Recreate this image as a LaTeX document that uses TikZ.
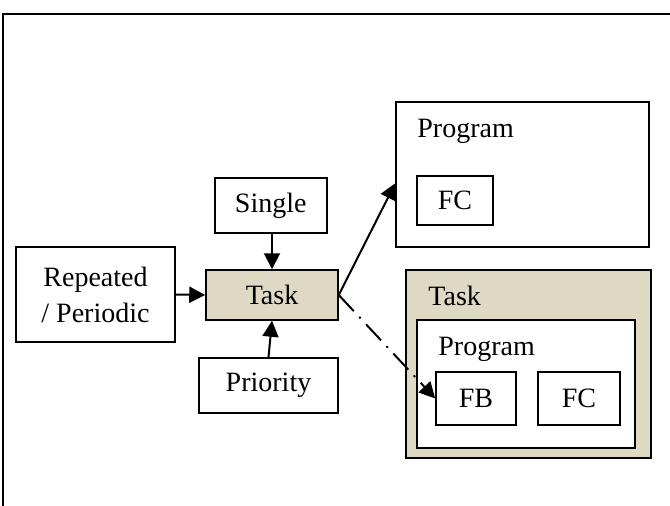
\documentclass[tikz,border=0pt]{standalone}
\usepackage{fontspec}
\setmainfont{Liberation Serif}
\usetikzlibrary{arrows.meta,calc}
\definecolor{taskfill}{RGB}{221,217,195}
\tikzset{
    box/.style={draw, line width=0.75pt, inner sep=0pt, font=\fontsize{14}{18}\selectfont},
    label/.style={anchor=base west, inner sep=0pt, font=\fontsize{14}{18}\selectfont},
    link/.style={line width=1pt, -{Triangle[length=8pt,width=8pt]}},
}
\begin{document}
\begin{tikzpicture}[x=0.5pt, y=-0.5pt]
        \useasboundingbox (0,0) rectangle (670,505);
        \draw[line width=1pt] (3,506) -- (3,14) -- (671,14);

        % sources of the task
        \node[box, minimum width=56pt, minimum height=27.5pt] (single) at (270.75, 205.5) {Single};
        \node[box, fill=taskfill, minimum width=66pt, minimum height=25pt] (task) at (272, 295) {Task};
        \node[box, align=center, minimum width=79.5pt, minimum height=47.5pt] (rep) at (95.5, 294.5) {Repeated\\/ Periodic};
        \node[box, minimum width=69.5pt, minimum height=27.5pt] (prio) at (268.5, 385.5) {Priority};

        % program on its own
        \node[box, minimum width=126.5pt, minimum height=72.5pt] (prog1) at (522.5, 174.5) {};
        \node[label] (prog1lbl) at (417, 137) {Program};
        \node[box, minimum width=38pt, minimum height=24.5pt] (fc1) at (455, 200.5) {FC};

        % task holding a program
        \node[box, fill=taskfill, minimum width=122.5pt, minimum height=94pt] (task2) at (528.5, 364) {};
        \node[label] (task2lbl) at (428, 305) {Task};
        \node[box, fill=white, minimum width=109pt, minimum height=64pt] (prog2) at (526, 384) {};
        \node[label] (prog2lbl) at (438, 355.5) {Program};
        \node[box, minimum width=40pt, minimum height=26.5pt] (fb) at (476, 398.5) {FB};
        \node[box, minimum width=41pt, minimum height=26.5pt] (fc2) at (579, 398.5) {FC};

        \draw[link] (rep.east) -- (task.west);
        \draw[link] (task.north |- single.south) -- (task.north);
        \draw[link] (prio.north) -- (task.south);
        \draw[link] (task.east) -- ($(prog1.north west)!0.56!(prog1.south west)$);
        \draw[link, dash pattern=on 11pt off 4pt on 1pt off 4pt] (task.east) -- (fb.west);
    \end{tikzpicture}
\end{document}
